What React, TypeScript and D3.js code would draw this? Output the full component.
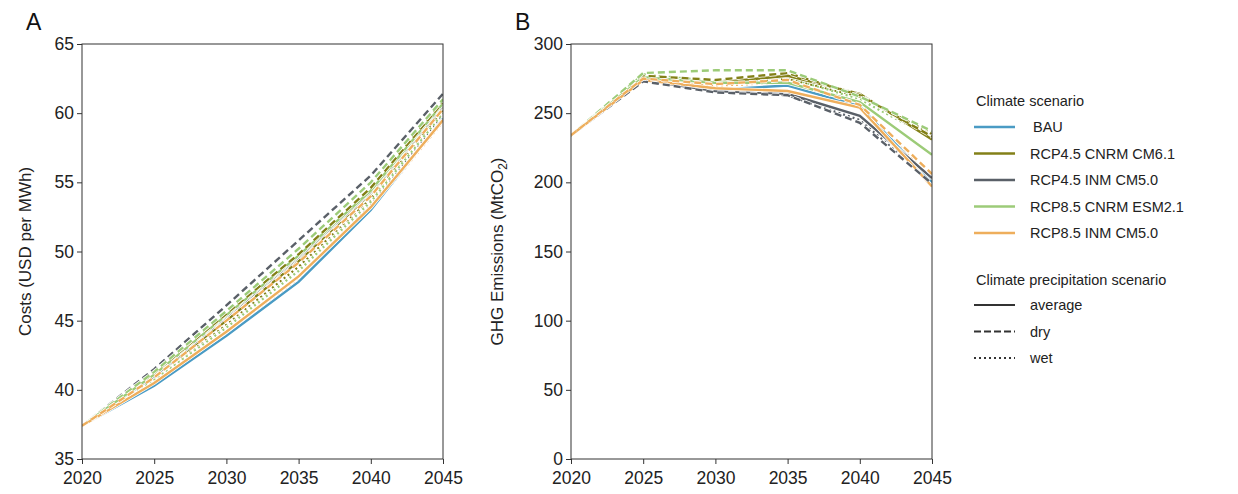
import { useEffect, useRef } from 'react';
import * as d3 from 'd3';

const years = [2020, 2025, 2030, 2035, 2040, 2045];

const scenarios = ['BAU', 'RCP4.5 CNRM CM6.1', 'RCP4.5 INM CM5.0', 'RCP8.5 CNRM ESM2.1', 'RCP8.5 INM CM5.0'];
const scenarioColors = ['#4a9bc4', '#838018', '#5a6068', '#9ccb78', '#eeae5c'];
const precipitations = ['average', 'dry', 'wet'];
const precipDash = ['none', '7,4', '2,3'];

// costs (USD per MWh)
const costBAU = [37.4, 40.3, 43.9, 47.8, 53.0, 59.6];
const costRcp45CnrmAvg = [37.4, 41.0, 45.0, 49.3, 54.2, 60.5];
const costRcp45CnrmDry = [37.4, 41.2, 45.5, 49.8, 54.6, 60.8];
const costRcp45CnrmWet = [37.4, 40.8, 44.7, 48.9, 53.8, 60.2];
const costRcp45InmAvg = [37.4, 41.0, 45.3, 49.6, 54.3, 60.6];
const costRcp45InmDry = [37.4, 41.5, 46.1, 50.8, 55.5, 61.4];
const costRcp45InmWet = [37.4, 40.5, 44.2, 48.2, 53.3, 59.8];
const costRcp85CnrmAvg = [37.4, 41.1, 45.4, 49.7, 54.4, 60.7];
const costRcp85CnrmDry = [37.4, 41.3, 45.7, 50.2, 55.0, 61.0];
const costRcp85CnrmWet = [37.4, 40.7, 44.5, 48.6, 53.6, 60.0];
const costRcp85InmAvg = [37.4, 40.5, 44.2, 48.2, 53.2, 59.5];
const costRcp85InmDry = [37.4, 40.9, 45.0, 49.2, 54.0, 60.3];
const costRcp85InmWet = [37.4, 40.4, 44.0, 48.0, 53.0, 59.4];

// GHG emissions (MtCO2)
const ghgBAU = [234, 274, 267, 270, 255, 200];
const ghgRcp45CnrmAvg = [234, 275, 272, 277, 264, 231];
const ghgRcp45CnrmDry = [234, 277, 274, 279, 263, 233];
const ghgRcp45CnrmWet = [234, 275, 271, 275, 262, 235];
const ghgRcp45InmAvg = [234, 274, 266, 264, 248, 203];
const ghgRcp45InmDry = [234, 273, 265, 263, 243, 199];
const ghgRcp45InmWet = [234, 274, 266, 263, 245, 201];
const ghgRcp85CnrmAvg = [234, 276, 272, 272, 258, 220];
const ghgRcp85CnrmDry = [234, 279, 281, 281, 262, 237];
const ghgRcp85CnrmWet = [234, 278, 273, 276, 260, 232];
const ghgRcp85InmAvg = [234, 274, 268, 266, 254, 197];
const ghgRcp85InmDry = [234, 275, 271, 274, 256, 206];
const ghgRcp85InmWet = [234, 275, 270, 272, 255, 202];

const costTicks = [35, 40, 45, 50, 55, 60, 65];
const ghgTicks = [0, 50, 100, 150, 200, 250, 300];

type Series = { scenario: number; precip: number; values: number[] };

const costSeries: Series[] = [
  { scenario: 1, precip: 2, values: costRcp45CnrmWet },
  { scenario: 2, precip: 2, values: costRcp45InmWet },
  { scenario: 3, precip: 2, values: costRcp85CnrmWet },
  { scenario: 4, precip: 2, values: costRcp85InmWet },
  { scenario: 0, precip: 0, values: costBAU },
  { scenario: 1, precip: 0, values: costRcp45CnrmAvg },
  { scenario: 2, precip: 0, values: costRcp45InmAvg },
  { scenario: 3, precip: 0, values: costRcp85CnrmAvg },
  { scenario: 4, precip: 0, values: costRcp85InmAvg },
  { scenario: 1, precip: 1, values: costRcp45CnrmDry },
  { scenario: 2, precip: 1, values: costRcp45InmDry },
  { scenario: 3, precip: 1, values: costRcp85CnrmDry },
  { scenario: 4, precip: 1, values: costRcp85InmDry },
];

const ghgSeries: Series[] = [
  { scenario: 1, precip: 2, values: ghgRcp45CnrmWet },
  { scenario: 2, precip: 2, values: ghgRcp45InmWet },
  { scenario: 3, precip: 2, values: ghgRcp85CnrmWet },
  { scenario: 4, precip: 2, values: ghgRcp85InmWet },
  { scenario: 0, precip: 0, values: ghgBAU },
  { scenario: 1, precip: 0, values: ghgRcp45CnrmAvg },
  { scenario: 2, precip: 0, values: ghgRcp45InmAvg },
  { scenario: 3, precip: 0, values: ghgRcp85CnrmAvg },
  { scenario: 4, precip: 0, values: ghgRcp85InmAvg },
  { scenario: 1, precip: 1, values: ghgRcp45CnrmDry },
  { scenario: 2, precip: 1, values: ghgRcp45InmDry },
  { scenario: 3, precip: 1, values: ghgRcp85CnrmDry },
  { scenario: 4, precip: 1, values: ghgRcp85InmDry },
];

const FONT = '"Liberation Sans", Arial, sans-serif';

export default function App() {
  const svgRef = useRef<SVGSVGElement | null>(null);

  useEffect(() => {
    const svg = d3.select(svgRef.current);
    svg.selectAll('*').remove();
    svg.attr('width', 1238).attr('height', 494).style('font-family', FONT);

    const top = 44, bottom = 459;

    const drawPanel = (
      left: number, right: number, series: Series[], ticks: number[],
      letter: string, labelOffset: number,
      yLabel: (t: d3.Selection<SVGTextElement, unknown, null, undefined>) => void,
    ) => {
      const x = d3.scaleLinear().domain([2020, 2045]).range([left, right]);
      const y = d3.scaleLinear().domain([ticks[0], ticks[ticks.length - 1]]).range([bottom, top]);
      const g = svg.append('g');

      const line = d3.line<number>().x((d, i) => x(years[i])).y(d => y(d));

      const clip = `clip-${letter}`;
      g.append('clipPath').attr('id', clip).append('rect')
        .attr('x', left).attr('y', top).attr('width', right - left).attr('height', bottom - top);
      const lines = g.append('g').attr('clip-path', `url(#${clip})`);

      series.forEach(s => {
        lines.append('path')
          .datum(s.values)
          .attr('fill', 'none')
          .attr('stroke', '#ffffff')
          .attr('stroke-width', 4)
          .attr('stroke-dasharray', precipDash[s.precip])
          .attr('d', line);
        lines.append('path')
          .datum(s.values)
          .attr('fill', 'none')
          .attr('stroke', scenarioColors[s.scenario])
          .attr('stroke-width', 2.4)
          .attr('stroke-dasharray', precipDash[s.precip])
          .attr('d', line);
      });

      // axes
      const yAxis = g.append('g').attr('transform', `translate(${left},0)`)
        .call(d3.axisLeft(y).tickValues(ticks).tickSize(5).tickPadding(3));
      const xAxis = g.append('g').attr('transform', `translate(0,${bottom})`)
        .call(d3.axisBottom(x).tickValues(years).tickFormat(d3.format('d')).tickSize(5).tickPadding(8));
      [yAxis, xAxis].forEach(a => {
        a.selectAll('text').attr('font-size', '17.5px').attr('fill', '#222').style('font-family', FONT);
        a.selectAll('line').attr('stroke', '#333');
        a.select('.domain').remove();
      });

      g.append('rect')
        .attr('x', left).attr('y', top).attr('width', right - left).attr('height', bottom - top)
        .attr('fill', 'none').attr('stroke', '#333').attr('stroke-width', 1);

      g.append('text')
        .attr('x', left - 56).attr('y', 30)
        .attr('font-size', '23px').attr('fill', '#111')
        .text(letter);

      const lab = g.append('text')
        .attr('transform', `translate(${left - labelOffset},${(top + bottom) / 2}) rotate(-90)`)
        .attr('text-anchor', 'middle')
        .attr('font-size', '17px').attr('fill', '#222');
      yLabel(lab);
    };

    drawPanel(82, 443, costSeries, costTicks, 'A', 51, t => t.text('Costs (USD per MWh)'));
    drawPanel(571, 932, ghgSeries, ghgTicks, 'B', 68, t => {
      t.append('tspan').text('GHG Emissions (MtCO');
      t.append('tspan').attr('font-size', '12px').attr('dy', 4).text('2');
      t.append('tspan').attr('dy', -4).text(')');
    });

    // legend
    const lg = svg.append('g').attr('font-size', '14.5px').attr('fill', '#222');
    lg.append('text').attr('x', 976).attr('y', 106).text('Climate scenario');
    scenarios.forEach((s, i) => {
      const yy = 127 + i * 26.5;
      lg.append('line').attr('x1', 974).attr('x2', 1015).attr('y1', yy).attr('y2', yy)
        .attr('stroke', scenarioColors[i]).attr('stroke-width', 2.4);
      lg.append('text').attr('x', i === 0 ? 1033 : 1030).attr('y', yy + 5).text(s);
    });
    lg.append('text').attr('x', 976).attr('y', 285).text('Climate precipitation scenario');
    precipitations.forEach((p, i) => {
      const yy = 305 + i * 26.5;
      lg.append('line').attr('x1', 974).attr('x2', 1015).attr('y1', yy).attr('y2', yy)
        .attr('stroke', '#333').attr('stroke-width', 2)
        .attr('stroke-dasharray', i === 0 ? 'none' : i === 1 ? '7,3' : '2,3');
      lg.append('text').attr('x', 1030).attr('y', yy + 5).text(p);
    });
  }, []);

  return (
    <div style={{ margin: -8 }}>
      <svg ref={svgRef} />
    </div>
  );
}
